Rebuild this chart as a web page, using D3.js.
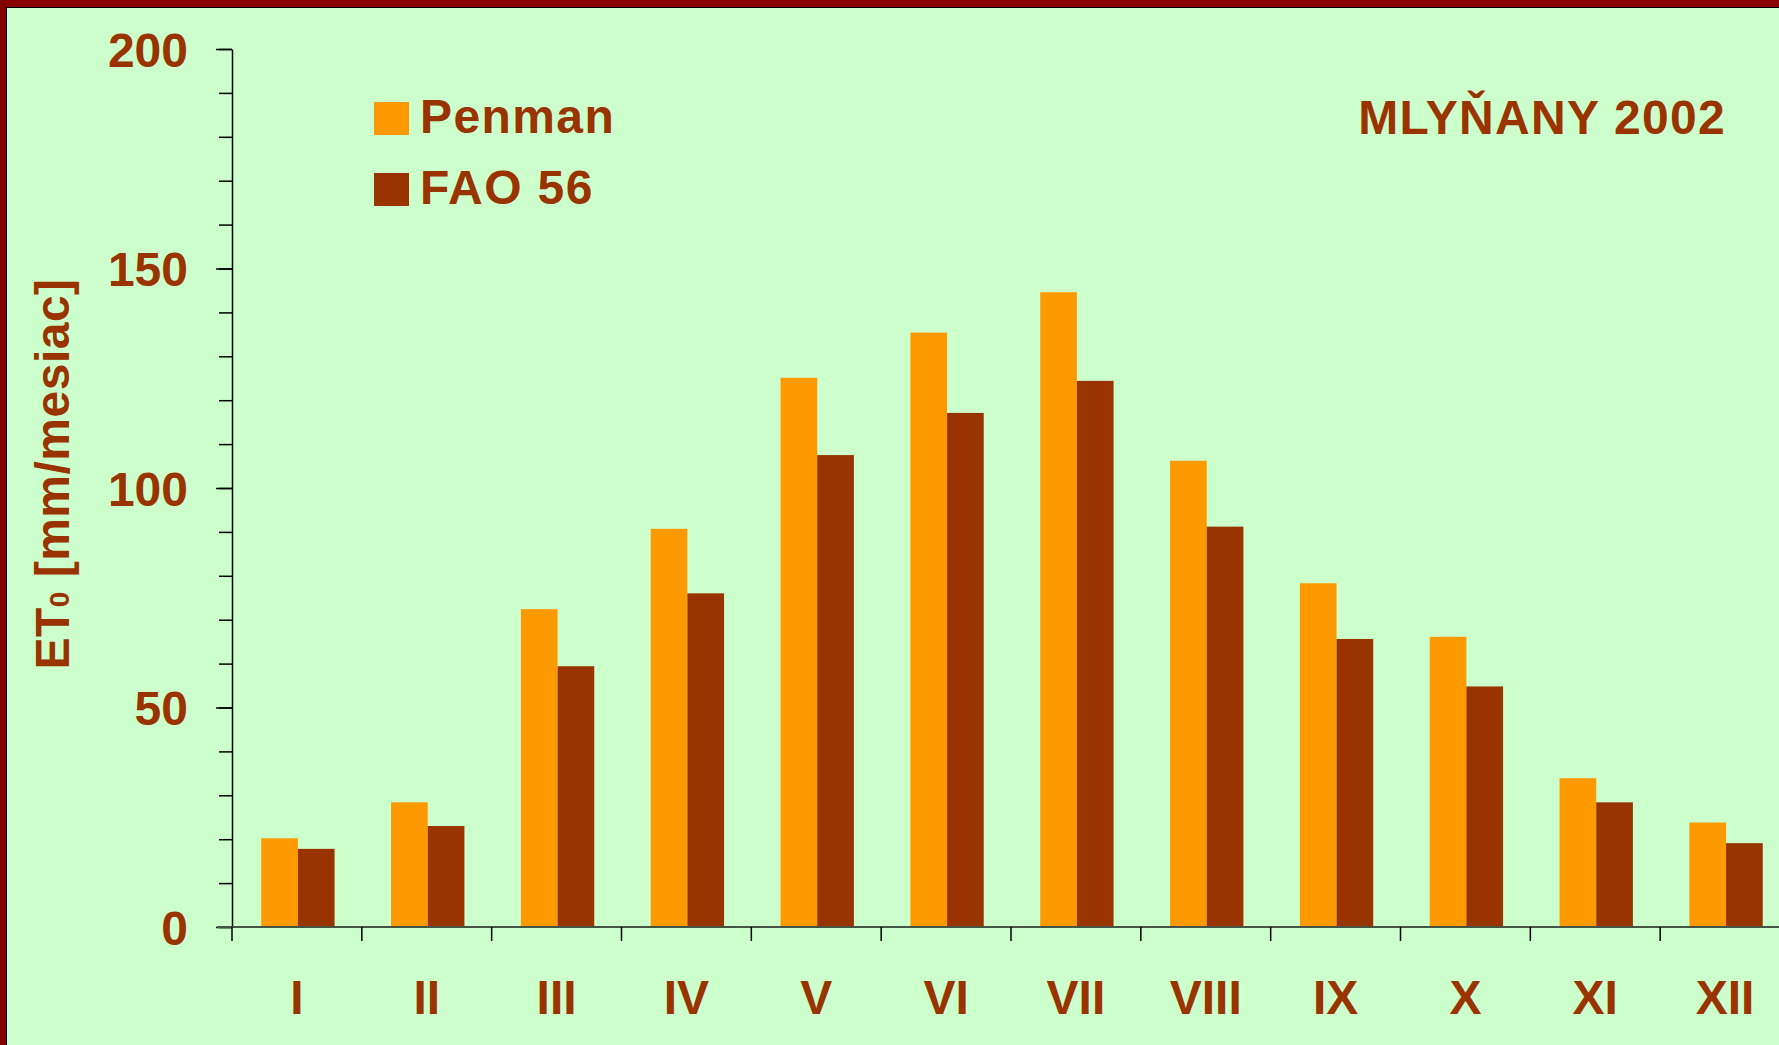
<!DOCTYPE html>
<html>
<head>
<meta charset="utf-8">
<script src="https://cdn.jsdelivr.net/npm/d3@7"></script>
<style>
  body { margin: 0; background: #CCFFCC; }
  svg { display: block; }
  text { font-family: "Liberation Sans", Arial, sans-serif; font-weight: bold; fill: #993300; }
</style>
</head>
<body>
<svg id="chart"></svg>
<script>
// data
var months = ["I", "II", "III", "IV", "V", "VI", "VII", "VIII", "IX", "X", "XI", "XII"];
var penman = [20.2, 28.4, 72.4, 90.7, 125.1, 135.4, 144.6, 106.2, 78.3, 66.1, 33.9, 23.8];
var fao56 = [17.8, 23.0, 59.4, 76.0, 107.5, 117.1, 124.4, 91.2, 65.6, 54.8, 28.4, 19.1];
var seriesNames = ["Penman", "FAO 56"];
var seriesColors = ["#FF9900", "#993300"];
var yMajorTicks = [0, 50, 100, 150, 200];

var W = 1779, H = 1045;
var svg = d3.select("#chart").attr("width", W).attr("height", H);

svg.append("rect").attr("width", W).attr("height", H).style("fill", "#CCFFCC");

// frame on top and left
svg.append("rect").attr("x", 0).attr("y", 0).attr("width", W).attr("height", 7).style("fill", "#880000");
svg.append("rect").attr("x", 0).attr("y", 0).attr("width", 6).attr("height", H).style("fill", "#800000");
svg.append("line").attr("x1", 6.5).attr("x2", 6.5).attr("y1", 7).attr("y2", H).attr("stroke", "#000").attr("stroke-width", 1);
svg.append("line").attr("x1", 6).attr("x2", W).attr("y1", 7.5).attr("y2", 7.5).attr("stroke", "#000").attr("stroke-width", 1);

var x0 = d3.scaleBand().domain(months).range([232, 1790]).padding(0);
var x1 = d3.scaleBand().domain(seriesNames)
    .range([x0.bandwidth() * 0.225, x0.bandwidth() * 0.79]).padding(0);
var y = d3.scaleLinear().domain([0, 200]).range([927, 49]);

var rows = months.map(function(m, i) { return { m: m, v: [penman[i], fao56[i]] }; });

// bars
var groups = svg.append("g").selectAll("g").data(rows).join("g")
    .attr("transform", function(d) { return "translate(" + x0(d.m) + ",0)"; });
groups.selectAll("rect").data(function(d) { return d.v.map(function(v, j) { return { s: seriesNames[j], v: v, c: seriesColors[j] }; }); })
    .join("rect")
    .attr("x", function(d) { return x1(d.s); })
    .attr("width", x1.bandwidth())
    .attr("y", function(d) { return y(d.v); })
    .attr("height", function(d) { return y(0) - y(d.v); })
    .style("fill", function(d) { return d.c; });

// y axis: minor ticks
svg.append("g").attr("transform", "translate(232,0)")
    .call(d3.axisLeft(y).tickValues(d3.range(0, 201, 10)).tickSize(13).tickFormat(""))
    .call(function(g) { g.select(".domain").remove(); })
    .selectAll("line").attr("stroke", "#000").attr("stroke-width", 1.5);

// y axis: major ticks and labels
var yAx = svg.append("g").attr("transform", "translate(232,0)")
    .call(d3.axisLeft(y).tickValues(yMajorTicks).tickSize(16).tickPadding(28).tickSizeOuter(0));
yAx.select(".domain").attr("stroke", "#000").attr("stroke-width", 1.5);
yAx.selectAll("line").attr("stroke", "#000").attr("stroke-width", 1.5);
yAx.selectAll("text").style("font-size", "48px").attr("dy", "0.36em").style("fill", "#993300");

// x axis line
svg.append("line").attr("x1", 217).attr("x2", W).attr("y1", y(0)).attr("y2", y(0))
    .attr("stroke", "#445544").attr("stroke-width", 2);

// category boundary ticks
var bounds = months.map(function(m) { return x0(m); });
svg.append("g").selectAll("line").data(bounds).join("line")
    .attr("x1", function(d) { return d; }).attr("x2", function(d) { return d; })
    .attr("y1", y(0)).attr("y2", y(0) + 14)
    .attr("stroke", "#000").attr("stroke-width", 1.5);

// month labels
var xAx = svg.append("g").attr("transform", "translate(0," + y(0) + ")")
    .call(d3.axisBottom(x0).tickSize(0).tickPadding(0));
xAx.select(".domain").remove();
xAx.selectAll("text").attr("dy", null).attr("y", 87).style("font-size", "48px").style("fill", "#993300");

// y axis title
var yt = svg.append("text")
    .attr("transform", "translate(69,474) rotate(-90)")
    .attr("text-anchor", "middle")
    .style("font-size", "48px").style("letter-spacing", "0.5px");
yt.append("tspan").text("ET");
yt.append("tspan").text("0").style("font-size", "28px");
yt.append("tspan").text(" [mm/mesiac]");

// legend
var legend = svg.append("g").selectAll("g").data(seriesNames).join("g")
    .attr("transform", function(d, i) { return "translate(374," + (102 + i * 71) + ")"; });
legend.append("rect").attr("width", 35).attr("height", 33)
    .style("fill", function(d, i) { return seriesColors[i]; });
legend.append("text").attr("x", 46).attr("y", 31).style("font-size", "48px")
    .style("letter-spacing", "1.4px").text(function(d) { return d; });

// station title
svg.append("text").attr("x", 1726).attr("y", 134).attr("text-anchor", "end")
    .style("font-size", "48px").style("letter-spacing", "1.3px").text("MLYŇANY 2002");
</script>
</body>
</html>
